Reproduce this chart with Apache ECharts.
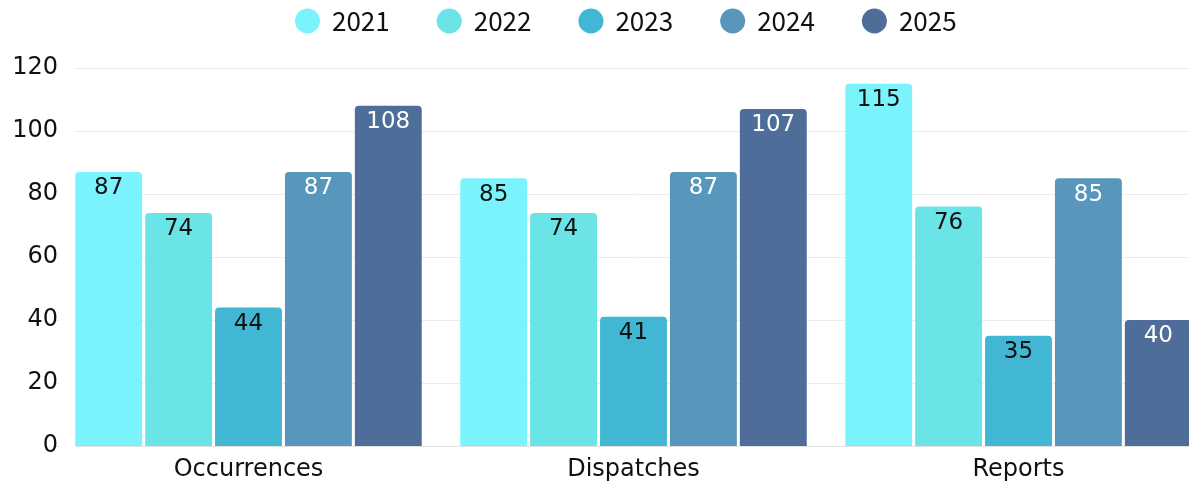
<!DOCTYPE html>
<html>
<head>
<meta charset="utf-8">
<script src="https://cdn.jsdelivr.net/npm/echarts@6/dist/echarts.min.js"></script>
<style>html,body{margin:0;padding:0;background:#fff;overflow:hidden;width:1189px;height:487px}#c{width:1211px;height:487px}</style>
</head>
<body>
<div id="c"></div>
<script>
const categories = ['Occurrences', 'Dispatches', 'Reports'];
const years = ['2021', '2022', '2023', '2024', '2025'];
const s2021 = [87, 85, 115];
const s2022 = [74, 74, 76];
const s2023 = [44, 41, 35];
const s2024 = [87, 87, 85];
const s2025 = [108, 107, 40];
const yTicks = [0, 20, 40, 60, 80, 100, 120];

const colors = ['#7af3fc', '#6ae4e6', '#42b7d4', '#5896bb', '#4e6e99'];
const labelColors = ['#111', '#111', '#111', '#fff', '#fff'];
const seriesData = [s2021, s2022, s2023, s2024, s2025];
const font = '"DejaVu Sans", sans-serif';

const chart = echarts.init(document.getElementById('c'), null, {renderer: 'canvas'});
chart.setOption({
  animation: false,
  color: colors,
  legend: {
    top: 3, left: 290,
    icon: 'circle', itemWidth: 25, itemHeight: 25, itemGap: 47,
    textStyle: {fontSize: 26, lineHeight: 25, color: '#111', fontFamily: '"Noto Sans CJK SC", sans-serif', padding: [0, 0, 0, 7]}
  },
  grid: {left: 56, right: 0, top: 68, bottom: 41, containLabel: false},
  graphic: [{
    type: 'rect', left: 59, top: 60, z: 10,
    shape: {width: 16, height: 390},
    style: {fill: '#fff'}
  }],
  xAxis: {
    type: 'category', data: categories,
    axisTick: {show: false},
    axisLine: {lineStyle: {color: '#e3e3e3', width: 1}},
    axisLabel: {fontSize: 24, color: '#111', margin: 12, fontFamily: font}
  },
  yAxis: {
    type: 'value', min: yTicks[0], max: yTicks[yTicks.length - 1], interval: 20,
    axisLine: {show: false}, axisTick: {show: false},
    splitLine: {lineStyle: {color: '#ececec', width: 1}},
    axisLabel: {fontSize: 24, color: '#111', margin: -2, fontFamily: font}
  },
  series: years.map((y, i) => ({
    name: y, type: 'bar', data: seriesData[i],
    barCategoryGap: '10%', barGap: '4.5%',
    itemStyle: {borderRadius: [4, 4, 0, 0]},
    label: {show: true, position: 'insideTop', distance: 5, fontSize: 23,
      color: labelColors[i], fontFamily: font}
  }))
});
</script>
</body>
</html>
